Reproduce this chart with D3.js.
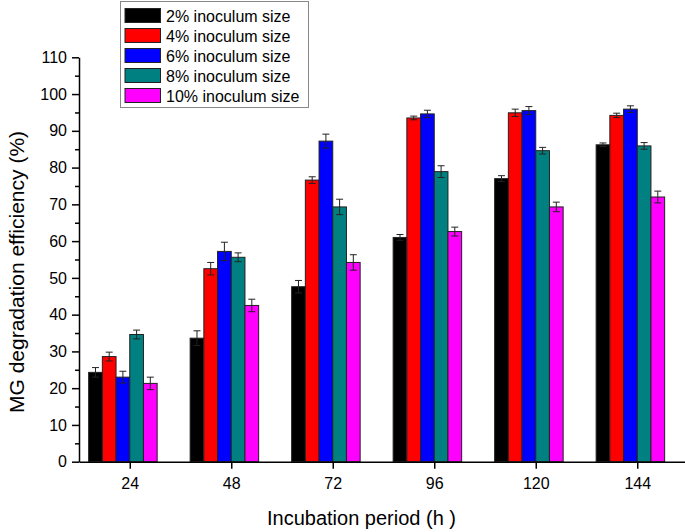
<!DOCTYPE html>
<html>
<head>
<meta charset="utf-8">
<script src="https://cdn.jsdelivr.net/npm/d3@7"></script>
<style>
  html, body { margin: 0; padding: 0; background: #fff; }
  svg { display: block; font-family: "Liberation Sans", Arial, sans-serif; }
</style>
</head>
<body>
<svg id="chart" width="685" height="532"></svg>
<script>
// ---- data ----
const hours = [24, 48, 72, 96, 120, 144];
const seriesNames = ["2% inoculum size", "4% inoculum size", "6% inoculum size", "8% inoculum size", "10% inoculum size"];
const seriesColors = ["#000000", "#ff0000", "#0000ff", "#008080", "#ff00ff"];
const s2  = [24.3, 33.6, 47.6, 61.0, 77.0, 86.2];
const s4  = [28.6, 52.5, 76.6, 93.5, 94.9, 94.2];
const s6  = [23.0, 57.2, 87.2, 94.6, 95.5, 95.9];
const s8  = [34.6, 55.6, 69.3, 78.9, 84.6, 85.9];
const s10 = [21.3, 42.5, 54.2, 62.6, 69.3, 72.0];
const e2  = [1.3, 2.0, 1.7, 0.8, 0.8, 0.5];
const e4  = [1.2, 1.7, 0.9, 0.5, 1.0, 0.6];
const e6  = [1.6, 2.5, 1.9, 1.0, 1.1, 0.9];
const e8  = [1.2, 1.2, 2.1, 1.6, 0.9, 0.9];
const e10 = [1.7, 1.7, 2.1, 1.2, 1.3, 1.6];
const yTicks = [0, 10, 20, 30, 40, 50, 60, 70, 80, 90, 100, 110];
const xLabel = "Incubation period (h )";
const yLabel = "MG degradation efficiency (%)";

const values = [s2, s4, s6, s8, s10];
const errors = [e2, e4, e6, e8, e10];

// ---- layout ----
const svg = d3.select("#chart");
const x = d3.scaleLinear().domain([12, 156]).range([79, 688]);
const y = d3.scaleLinear().domain([0, 110]).range([461.7, 57.3]);
const bw = (x(48) - x(24)) * 0.135;

// bars
const rows = [];
values.forEach((arr, si) => arr.forEach((v, hi) => rows.push({si, h: hours[hi], v, e: errors[si][hi]})));

const g = svg.append("g");
g.selectAll("rect.bar").data(rows).enter().append("rect")
  .attr("class", "bar")
  .attr("x", d => x(d.h) + (d.si - 3) * bw)
  .attr("width", bw)
  .attr("y", d => y(d.v))
  .attr("height", d => y(0) - y(d.v))
  .attr("fill", d => seriesColors[d.si])
  .attr("stroke", "#222")
  .attr("stroke-width", 1);

// error bars
const eb = g.selectAll("g.err").data(rows).enter().append("g").attr("class", "err")
  .attr("stroke", "#222").attr("stroke-width", 1);
eb.append("line")
  .attr("x1", d => x(d.h) + (d.si - 2.5) * bw).attr("x2", d => x(d.h) + (d.si - 2.5) * bw)
  .attr("y1", d => y(d.v - d.e)).attr("y2", d => y(d.v + d.e));
eb.append("line")
  .attr("x1", d => x(d.h) + (d.si - 2.5) * bw - 3.5).attr("x2", d => x(d.h) + (d.si - 2.5) * bw + 3.5)
  .attr("y1", d => y(d.v + d.e)).attr("y2", d => y(d.v + d.e));
eb.append("line")
  .attr("x1", d => x(d.h) + (d.si - 2.5) * bw - 3.5).attr("x2", d => x(d.h) + (d.si - 2.5) * bw + 3.5)
  .attr("y1", d => y(d.v - d.e)).attr("y2", d => y(d.v - d.e));

// axes
const yAxis = d3.axisLeft(y).tickValues(yTicks).tickSize(7).tickSizeOuter(0).tickPadding(5);
const yMinor = d3.axisLeft(y).tickValues(d3.range(5, 110, 10)).tickSize(4).tickFormat("").tickSizeOuter(0);
const ya = svg.append("g").attr("transform", `translate(${x(12)},0)`).call(yAxis);
const ym = svg.append("g").attr("transform", `translate(${x(12)},0)`).call(yMinor);
ym.select(".domain").remove();
ya.selectAll("text").attr("font-size", 16).attr("fill", "#000").attr("font-family", "Liberation Sans, Arial, sans-serif");

const xAxis = d3.axisBottom(x).tickValues(hours).tickSize(7).tickSizeOuter(0).tickPadding(9);
const xa = svg.append("g").attr("transform", `translate(0,${y(0)})`).call(xAxis);
xa.selectAll("text").attr("font-size", 16).attr("fill", "#000").attr("font-family", "Liberation Sans, Arial, sans-serif");

[ya, ym, xa].forEach(a => {
  a.selectAll(".domain").attr("stroke", "#000").attr("stroke-width", 1.5);
  a.selectAll(".tick line").attr("stroke", "#000").attr("stroke-width", 1.5);
});

// axis titles
svg.append("text").attr("x", (x(24) + x(144)) / 2 - 22).attr("y", 525)
  .attr("text-anchor", "middle").attr("font-size", 20).attr("fill", "#000").text(xLabel);
svg.append("text").attr("transform", "translate(24,272) rotate(-90)")
  .attr("text-anchor", "middle").attr("font-size", 21).attr("fill", "#000").text(yLabel);

// legend
const lg = svg.append("g");
lg.append("rect").attr("x", 120.5).attr("y", 1.5).attr("width", 188).attr("height", 106)
  .attr("fill", "#fff").attr("stroke", "#888").attr("stroke-width", 1);
const li = lg.selectAll("g.item").data(seriesNames).enter().append("g")
  .attr("transform", (d, i) => `translate(125,${8.5 + i * 20})`);
li.append("rect").attr("width", 35.5).attr("height", 14)
  .attr("fill", (d, i) => seriesColors[i]).attr("stroke", "#222").attr("stroke-width", 1);
li.append("text").attr("x", 41).attr("y", 13).attr("font-size", 16).attr("fill", "#000").text(d => d);
</script>
</body>
</html>
